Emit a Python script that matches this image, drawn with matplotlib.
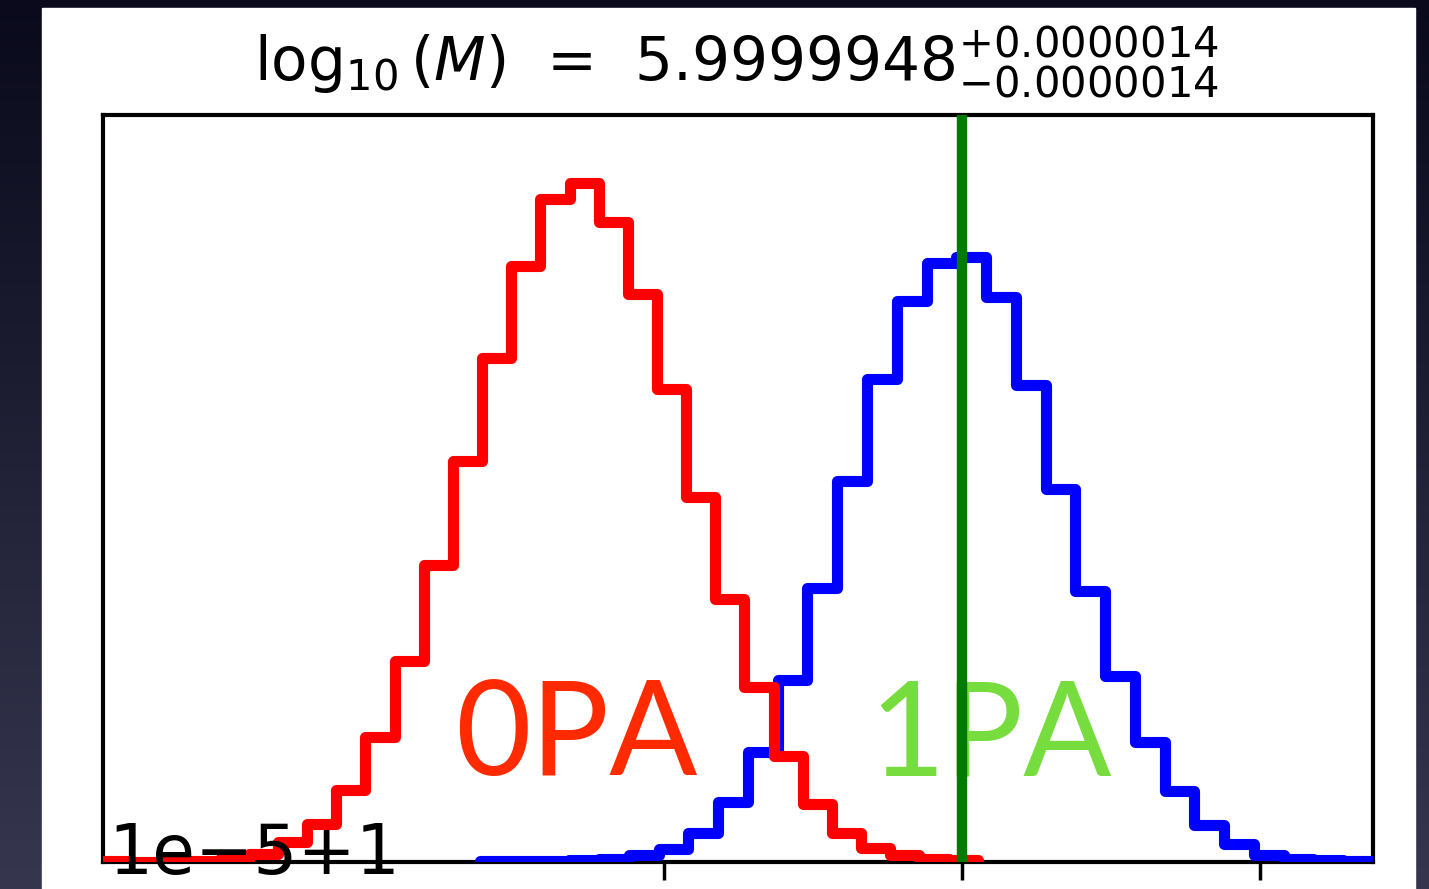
import numpy as np
import matplotlib
matplotlib.use("Agg")
import matplotlib.pyplot as plt
from matplotlib.patches import Rectangle

# histogram counts (x in units of 1e-5, offset 1)
red_counts = [1, 0, 1, 1, 3, 8, 20, 38, 72, 125, 201, 297, 402, 505, 597,
              664, 680, 641, 569, 474, 365, 263, 175, 106, 58, 29, 14, 7, 3, 2]
red_range = (-2.883, 0.054)

blue_counts = [1, 1, 1, 2, 3, 7, 13, 29, 60, 110, 182, 274, 382, 484, 562,
               600, 606, 566, 478, 373, 271, 186, 120, 71, 37, 18, 7, 3, 2, 1]
blue_range = (-1.617, 1.381)

truth = 0.0
xticks = [-1, 0, 1]
title = r"$\log_{10}(M)$  =  $5.9999948_{-0.0000014}^{+0.0000014}$"
offset_label = "1e\u22125+1"
labels = ["0PA", "1PA"]

W, H = 1429, 889
fig = plt.figure(figsize=(W / 100, H / 100), dpi=100)

# dark slide background with white panel
bg = fig.add_axes([0, 0, 1, 1], zorder=-10)
grad = np.linspace(0, 1, 256)[:, None]
bg.imshow(grad, cmap=matplotlib.colors.LinearSegmentedColormap.from_list(
    "bg", ["#0a0a1c", "#36364f"]), aspect="auto", extent=[0, W, H, 0])
bg.add_patch(Rectangle((42, 8), 1373, 881, color="white"))
band = np.linspace(0, 1, 64)[:, None]
bg.imshow(band, cmap=matplotlib.colors.LinearSegmentedColormap.from_list(
    "band", ["#dedede", "#ffffff"]), aspect="auto", extent=[42, 1415, 36, 8])
bg.set_xlim(0, W)
bg.set_ylim(H, 0)
bg.axis("off")

ax = fig.add_axes([103 / W, 27 / H, 1270 / W, 747 / H])
ax.patch.set_alpha(0)

red_edges = np.linspace(red_range[0], red_range[1], len(red_counts) + 1)
blue_edges = np.linspace(blue_range[0], blue_range[1], len(blue_counts) + 1)

ax.hist(blue_edges[:-1], bins=blue_edges, weights=blue_counts, histtype="step",
        color="blue", lw=8, joinstyle="round", zorder=3)
ax.hist(red_edges[:-1], bins=red_edges, weights=red_counts, histtype="step",
        color="red", lw=8, joinstyle="round", zorder=4)
ax.axvline(truth, color="#007a00", lw=7.5, zorder=5)

ax.set_xlim(red_range[0], blue_range[1])
ax.set_ylim(0, 1.1 * max(max(red_counts), max(blue_counts)))
ax.set_xticks(xticks)
ax.set_xticklabels([])
ax.set_yticks([])
ax.tick_params(axis="x", direction="out", length=13, width=2.5, color="black")
for s in ax.spines.values():
    s.set_linewidth(3)
    s.set_color("black")

ax.text(-1.70, 87, labels[0], color="#ff2a00", fontsize=94, family="Lato",
        ha="left", va="baseline", zorder=2)
ax.text(-0.31, 87, labels[1], color="#77dd3f", fontsize=94, family="Lato",
        ha="left", va="baseline", zorder=2)

fig.text(736 / W, (H - 81) / H, title, fontsize=43, ha="center", va="baseline")
fig.text(108 / W, 1 / H, offset_label, fontsize=50, ha="left", va="bottom")

fig.savefig("out.png", dpi=100)
